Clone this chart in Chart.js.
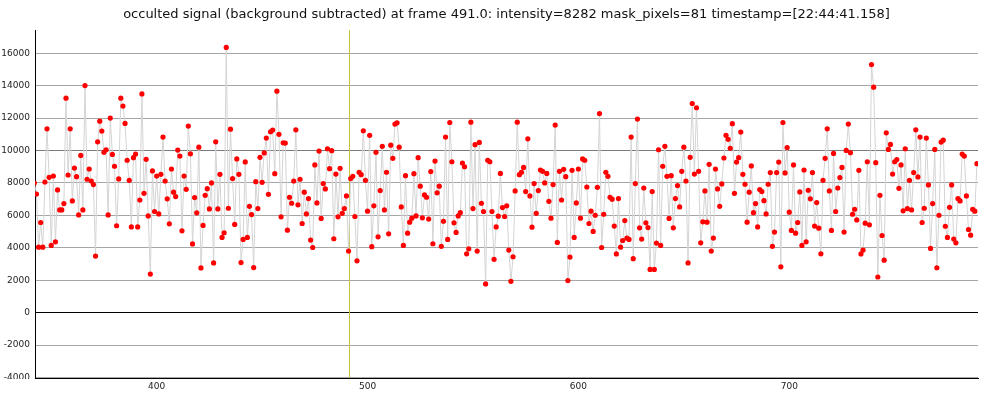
<!DOCTYPE html>
<html>
<head>
<meta charset="utf-8">
<script src="https://cdn.jsdelivr.net/npm/chart.js@4.4.1/dist/chart.umd.min.js"></script>
<style>
  html, body { margin: 0; padding: 0; background: #fff; }
  #wrap { width: 982px; height: 399px; }
</style>
</head>
<body>
<div id="wrap"><canvas id="chart" width="982" height="399"></canvas></div>
<script>
const titleText = 'occulted signal (background subtracted) at frame 491.0: intensity=8282 mask_pixels=81 timestamp=[22:44:41.158]';
const firstFrame = 342;
const markerFrame = 491;
const xTicks = [400, 500, 600, 700];
const yTicks = [-4000, -2000, 0, 2000, 4000, 6000, 8000, 10000, 12000, 14000, 16000];

// intensity per frame, starting at firstFrame
const intensity = [
  8000, 7320, 4040, 5560, 4040, 8060, 11340, 8350, 4150, 8430, 4370, 7570, 6340, 6340, 6730, 13230, 8490, 11340, 6890, 8920,
  8390, 6030, 9700, 6340, 14010, 8230, 8860, 8120, 7900, 3490, 10540, 11810, 11200, 9890, 10050, 6030, 12000, 9760, 9030,
  5360, 8250, 13230, 12740, 11670, 9400, 8160, 5290, 9560, 9780, 5290, 6950, 13490, 7360, 9460, 5970, 2380, 8740, 6240, 8430,
  6090, 8530, 10830, 8120, 7020, 5480, 8860, 7430, 7160, 10030, 9660, 5050, 8430, 7610, 11510, 9800, 4240, 7100, 6160,
  10210, 2760, 5380, 7240, 7650, 6400, 8000, 3070, 10540, 6400, 8530, 4640, 4930, 16360, 6440, 11320, 8270, 5440, 9480, 8530,
  3090, 4520, 9300, 4640, 6560, 6050, 2780, 8080, 6420, 9580, 8040, 9850, 10770, 7300, 11160, 11260, 8570, 13660, 11000,
  5910, 10480, 10460, 5090, 7120, 6750, 8120, 11280, 6650, 8230, 5500, 7430, 6090, 7040, 4480, 4020, 9110, 6770, 9970, 5810,
  7960, 7630, 10110, 8880, 9990, 4560, 8550, 5910, 8900, 6130, 6420, 7200, 3800, 8270, 8410, 5930, 3200, 8660,
  8510, 11220, 8160, 6260, 10940, 4070, 6590, 9890, 4680, 7530, 10260, 6340, 8660, 4860, 10330, 9520, 11630, 11710, 10210, 6520,
  4150, 8450, 4900, 5580, 5830, 8570, 5970, 9560, 7800, 5850, 7260, 7120, 5770, 8700, 4250, 9350, 7390, 7800, 4090,
  5640, 10830, 4520, 11730, 9310, 5540, 4950, 5970, 6170, 9230, 9000, 3630, 3940, 11750, 6420, 10360, 3800, 10500, 6750, 6240,
  1770, 9400, 9310, 6240, 3290, 5290, 5950, 8590, 6480, 5930, 6590, 3860, 1930, 3450, 7510, 11750, 8510, 8660, 8960,
  7470, 10720, 7200, 5270, 7960, 6130, 7530, 8800, 8720, 8000, 8590, 6870, 5830, 7900, 11570, 4330, 8720, 6950, 8840, 8390,
  1980, 3430, 8780, 4640, 6770, 8860, 5830, 9480, 9400, 7750, 5500, 6260, 5010, 6010, 7730, 12280, 4020, 6070,
  8660, 8410, 7120, 7000, 5340, 3620, 7040, 4040, 4450, 5680, 4600, 4520, 10830, 3330, 7960, 11940, 5230, 4540, 7690, 5540,
  5250, 2670, 7470, 2670, 4290, 10050, 4150, 9030, 10260, 8410, 5810, 8450, 5230, 7040, 7840, 6520, 8720, 10210,
  8120, 3070, 9580, 12900, 8550, 12640, 8720, 4310, 5600, 7510, 5580, 9150, 3800, 4600, 8860, 7630, 6560, 7940, 9540, 10940,
  10690, 10140, 11660, 7360, 9290, 9560, 11140, 8530, 7920, 5580, 7430, 9050, 6170, 6730, 5290, 7590, 7470, 6910, 6090,
  7920, 8640, 4090, 4970, 8640, 9290, 2830, 11730, 8620, 10180, 6200, 5070, 9110, 4900, 5560, 7450, 4150, 8800, 4370, 7550,
  7020, 8640, 5340, 6790, 5210, 3630, 8160, 9520, 11340, 7510, 5070, 9820, 6240, 7690, 8330, 8960, 4970, 10010, 11630,
  9870, 6070, 6380, 5720, 8780, 3620, 3860, 5520, 9310, 5420, 15300, 13910, 9250, 2200, 7240, 4760, 3240, 11090, 10070, 10380,
  8550, 9310, 9440, 7670, 9110, 6280, 10110, 6420, 8160, 6340, 8640, 11280, 8370, 10830, 5560, 6440, 10770, 7880, 3960,
  6730, 10070, 2770, 6010, 10520, 10640, 5330, 4640, 6500, 7880, 4540, 4310, 7040, 6890, 9780, 9660, 7200, 5130, 4780, 6380,
  6260, 9190
];

const points = intensity.map((v, i) => ({ x: firstFrame + i, y: v }));

// vertical marker at the current frame, plus masking of the clipped -4000 label
const markerPlugin = {
  id: 'frameMarker',
  beforeDatasetsDraw(chart) {
    const { ctx, chartArea, scales } = chart;
    const x = Math.round(scales.x.getPixelForValue(markerFrame)) + 0.5;
    ctx.save();
    ctx.strokeStyle = '#c9c23a';
    ctx.lineWidth = 1;
    ctx.beginPath();
    ctx.moveTo(x, chartArea.top);
    ctx.lineTo(x, chartArea.bottom);
    ctx.stroke();
    ctx.restore();
  },
  afterDraw(chart) {
    const { ctx, chartArea } = chart;
    ctx.save();
    ctx.fillStyle = '#fff';
    ctx.fillRect(0, chartArea.bottom + 1, chartArea.left - 1, chart.height - chartArea.bottom);
    ctx.restore();
  }
};

new Chart(document.getElementById('chart'), {
  type: 'line',
  data: {
    datasets: [{
      data: points,
      borderColor: '#d4d4d4',
      borderWidth: 1,
      pointRadius: 2.6,
      pointBackgroundColor: '#ff0000',
      pointBorderWidth: 0,
      tension: 0
    }]
  },
  options: {
    responsive: false,
    animation: false,
    layout: { padding: { left: 0, right: 2, top: 0, bottom: 0 } },
    plugins: {
      legend: { display: false },
      tooltip: { enabled: false },
      title: {
        display: true,
        text: titleText,
        fullSize: false,
        color: '#111',
        font: { family: 'DejaVu Sans', size: 13, weight: 'normal' },
        padding: { top: 7, bottom: 7.4 }
      }
    },
    scales: {
      x: {
        type: 'linear',
        min: 342.3,
        max: 789.5,
        afterFit(scale) { scale.height = 21; },
        afterBuildTicks(scale) { scale.ticks = xTicks.map(v => ({ value: v })); },
        grid: { display: false, drawTicks: false },
        border: { display: true, color: '#000' },
        ticks: {
          color: '#222',
          padding: 3,
          maxRotation: 0,
          font: { family: 'DejaVu Sans', size: 9 }
        }
      },
      y: {
        min: -4030,
        max: 17435,
        afterFit(scale) { scale.width = 35; },
        afterBuildTicks(scale) { scale.ticks = yTicks.map(v => ({ value: v })); },
        grid: {
          drawTicks: false,
          color: ctx => {
            const v = ctx.tick ? ctx.tick.value : null;
            if (v === 0) return '#000';
            if (v === 10000) return '#7a7a7a';
            return '#a6a6a6';
          }
        },
        border: { display: true, color: '#000' },
        ticks: {
          color: '#222',
          padding: 5,
          font: { family: 'DejaVu Sans', size: 9 },
          callback: v => String(v)
        }
      }
    }
  },
  plugins: [markerPlugin]
});
</script>
</body>
</html>
